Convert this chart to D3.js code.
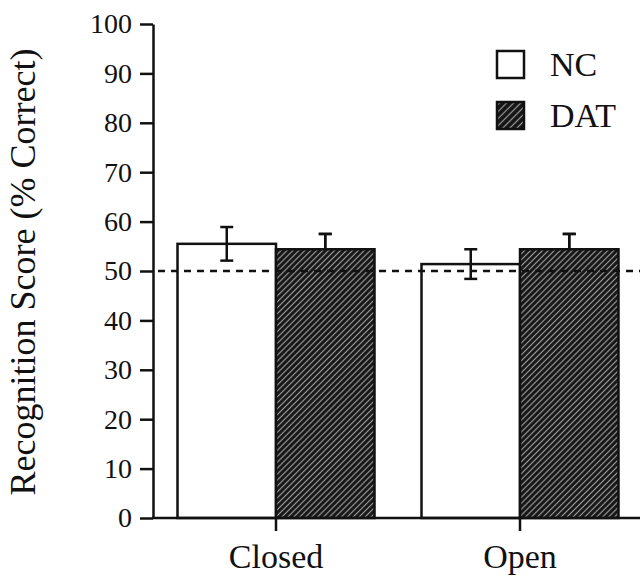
<!DOCTYPE html>
<html>
<head>
<meta charset="utf-8">
<script src="https://cdn.jsdelivr.net/npm/d3@7"></script>
<style>
  html, body { margin: 0; padding: 0; background: #fff; }
  svg { display: block; }
</style>
</head>
<body>
<svg id="chart" width="640" height="576"></svg>
<script>
const categories = ["Closed", "Open"];
const series = ["NC", "DAT"];
const ncValues = [55.5, 51.4];
const datValues = [54.4, 54.4];
const ncErrors = [3.4, 3.0];
const datErrors = [3.1, 3.1];
const yTicks = [0, 10, 20, 30, 40, 50, 60, 70, 80, 90, 100];
const chanceLevel = 50;
const yTitle = "Recognition Score (% Correct)";

const FONT = "'Liberation Serif', 'Times New Roman', Tinos, serif";
const svg = d3.select("#chart");
const ink = "#111";

const defs = svg.append("defs");
function hatch(id, period, lw, bg, fg) {
  const p = defs.append("pattern")
    .attr("id", id).attr("patternUnits", "userSpaceOnUse")
    .attr("width", period).attr("height", period)
    .attr("patternTransform", "rotate(-45)");
  p.append("rect").attr("width", period).attr("height", period).attr("fill", bg);
  p.append("line").attr("x1", 0).attr("y1", period / 2).attr("x2", period).attr("y2", period / 2)
    .attr("stroke", fg).attr("stroke-width", lw);
}
hatch("hatch", 4.2, 1.2, "#141414", "#9a9a9a");
hatch("hatchLegend", 5, 1.2, "#141414", "#9a9a9a");

const y = d3.scaleLinear().domain([0, 100]).range([518, 24]);
const x = d3.scaleBand().domain(categories).range([154, 642]);
const half = 98.5;
const xs = d3.scaleBand().domain(series)
  .range([x.bandwidth() / 2 - half, x.bandwidth() / 2 + half]);

const data = [];
categories.forEach((c, i) => {
  data.push({cat: c, s: "NC", v: ncValues[i], e: ncErrors[i]});
  data.push({cat: c, s: "DAT", v: datValues[i], e: datErrors[i]});
});

// error bars
const eb = svg.append("g").attr("stroke", ink).attr("stroke-width", 2.5).attr("fill", "none");
data.forEach(d => {
  const cx = x(d.cat) + xs(d.s) + xs.bandwidth() / 2;
  eb.append("line").attr("x1", cx).attr("x2", cx).attr("y1", y(d.v + d.e)).attr("y2", y(d.v - d.e));
  eb.append("line").attr("x1", cx - 6.5).attr("x2", cx + 6.5).attr("y1", y(d.v + d.e)).attr("y2", y(d.v + d.e));
  eb.append("line").attr("x1", cx - 6.5).attr("x2", cx + 6.5).attr("y1", y(d.v - d.e)).attr("y2", y(d.v - d.e));
});

// bars
svg.append("g").selectAll("rect").data(data).join("rect")
  .attr("x", d => x(d.cat) + xs(d.s))
  .attr("width", xs.bandwidth())
  .attr("y", d => y(d.v))
  .attr("height", d => y(0) - y(d.v))
  .attr("fill", d => d.s === "NC" ? "none" : "url(#hatch)")
  .attr("stroke", ink).attr("stroke-width", 2.5);

// upper part of DAT error bars on top of the hatched bars
const eb2 = svg.append("g").attr("stroke", ink).attr("stroke-width", 2.5);
data.filter(d => d.s === "DAT").forEach(d => {
  const cx = x(d.cat) + xs(d.s) + xs.bandwidth() / 2;
  eb2.append("line").attr("x1", cx).attr("x2", cx).attr("y1", y(d.v + d.e)).attr("y2", y(d.v));
  eb2.append("line").attr("x1", cx - 6.5).attr("x2", cx + 6.5).attr("y1", y(d.v + d.e)).attr("y2", y(d.v + d.e));
});

// chance line
svg.append("line")
  .attr("x1", 154).attr("x2", 640)
  .attr("y1", y(chanceLevel)).attr("y2", y(chanceLevel))
  .attr("stroke", ink).attr("stroke-width", 2.5).attr("stroke-dasharray", "7,6")
  .attr("stroke-dashoffset", -4);

// y axis
const yAxis = svg.append("g").attr("transform", "translate(153,0)")
  .call(d3.axisLeft(y).tickValues(yTicks).tickSize(13).tickPadding(8).tickSizeOuter(0));
yAxis.select(".domain").attr("stroke", ink).attr("stroke-width", 2.5);
yAxis.selectAll(".tick line").attr("stroke", ink).attr("stroke-width", 2.5);
yAxis.selectAll(".tick text").style("font-size", "28px").style("font-family", FONT).attr("fill", ink);

// x axis
const xAxis = svg.append("g").attr("transform", "translate(0,518)")
  .call(d3.axisBottom(x).tickSize(13).tickPadding(8).tickSizeOuter(0));
xAxis.select(".domain").attr("stroke", ink).attr("stroke-width", 2.5).attr("d", "M152,0H640");
xAxis.selectAll(".tick line").attr("stroke", ink).attr("stroke-width", 2.5);
xAxis.selectAll(".tick text").style("font-size", "34px").style("font-family", FONT).attr("fill", ink)
  .attr("dy", null).attr("y", 50);

// y title
svg.append("text")
  .attr("transform", "translate(35,272) rotate(-90)")
  .attr("text-anchor", "middle")
  .style("font-size", "36px").style("font-family", FONT).attr("fill", ink)
  .text(yTitle);

// legend
const legend = svg.append("g");
series.forEach((s, i) => {
  const g = legend.append("g").attr("transform", `translate(497,${51 + i * 51})`);
  g.append("rect").attr("width", 27).attr("height", 27)
    .attr("fill", s === "NC" ? "#fff" : "url(#hatchLegend)")
    .attr("stroke", ink).attr("stroke-width", 2.5);
  g.append("text").attr("x", 53).attr("y", 24.5)
    .style("font-size", "34px").style("font-family", FONT).attr("fill", ink).text(s);
});
</script>
</body>
</html>
